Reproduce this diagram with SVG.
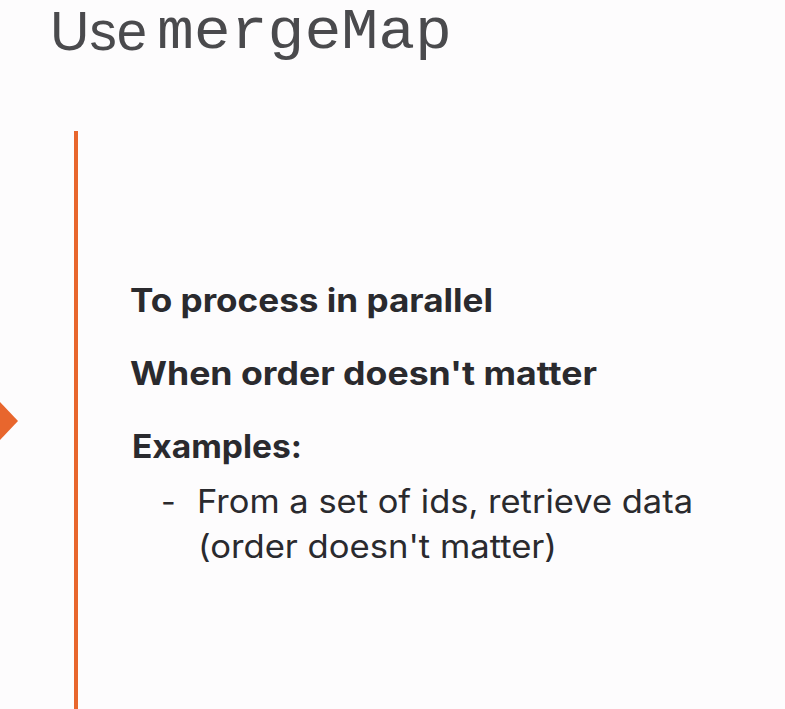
<svg xmlns="http://www.w3.org/2000/svg" width="785" height="709" viewBox="0 0 785 709">
  <style>
    .title { fill: #4a4a4d; }
    .sans { font-family: "Liberation Sans", "Inter", sans-serif; font-weight: 400; font-size: 55px; }
    .mono { font-family: "Liberation Mono", "DejaVu Sans Mono", monospace; font-size: 57px; }
    .bold { font-family: "Inter", "Noto Sans", "Liberation Sans", sans-serif; font-weight: 700; font-size: 32px; fill: #2a2a2e; }
    .body { font-family: "Inter", "Noto Sans", "Liberation Sans", sans-serif; font-weight: 400; font-size: 32px; fill: #2a2a2e; }
    .accent { fill: #e8662d; }
  </style>
  <rect x="0" y="0" width="785" height="709" fill="#fdfcfd"/>
  <g id="title">
    <text class="title sans" x="50" y="50" textLength="97" lengthAdjust="spacingAndGlyphs">Use</text>
    <text class="title mono" x="157" y="48" textLength="295" lengthAdjust="spacingAndGlyphs">mergeMap</text>
  </g>
  <g id="decor">
    <rect class="accent" x="74" y="131" width="4" height="578"/>
    <polygon class="accent" points="0,402 18,421 0,440"/>
  </g>
  <g id="content">
    <text class="bold" x="130" y="312" textLength="363" lengthAdjust="spacingAndGlyphs">To process in parallel</text>
    <text class="bold" x="130" y="385" textLength="467" lengthAdjust="spacingAndGlyphs">When order doesn't matter</text>
    <text class="bold" x="132" y="458" textLength="170" lengthAdjust="spacingAndGlyphs">Examples:</text>
    <text class="body" x="161" y="513">-</text>
    <text class="body" x="197" y="513" textLength="496" lengthAdjust="spacingAndGlyphs">From a set of ids, retrieve data</text>
    <text class="body" x="198" y="558" textLength="359" lengthAdjust="spacingAndGlyphs">(order doesn't matter)</text>
  </g>
</svg>
